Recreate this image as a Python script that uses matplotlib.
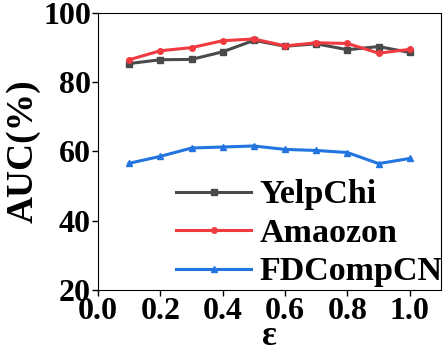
import numpy as np
import matplotlib.pyplot as plt

plt.rcParams['font.family'] = 'Liberation Serif'
plt.rcParams['font.weight'] = 'bold'

# -------- Data --------
eps = [0.1, 0.2, 0.3, 0.4, 0.5, 0.6, 0.7, 0.8, 0.9, 1.0]
yelpchi = [85.4, 86.5, 86.6, 88.8, 92.1, 90.4, 91.1, 89.4, 90.3, 88.6]
amazon = [86.5, 89.1, 90.0, 92.0, 92.5, 90.5, 91.4, 91.2, 88.4, 89.5]
fdcompcn = [56.6, 58.6, 61.0, 61.3, 61.6, 60.6, 60.3, 59.7, 56.5, 58.0]
labels = ["YelpChi", "Amaozon", "FDCompCN"]

fig = plt.figure(figsize=(4.46, 3.53), dpi=100)
ax = fig.add_axes([98/446, 1 - 290/353, (441-98)/446, (290-13)/353])

ax.plot(eps, yelpchi, color='#4a4a4a', marker='s', markersize=4, linewidth=2.2, label=labels[0])
ax.plot(eps, amazon, color='#ef3b3f', marker='o', markersize=4, linewidth=2.2, label=labels[1])
ax.plot(eps, fdcompcn, color='#2274e0', marker='^', markersize=4, linewidth=2.2, label=labels[2])

ax.set_xlim(0, 1.1)
ax.set_ylim(20, 100)
ax.set_xticks([0.0, 0.2, 0.4, 0.6, 0.8, 1.0])
ax.set_yticks([20, 40, 60, 80, 100])
ax.tick_params(labelsize=23, width=1, length=4, pad=1)
for lbl in ax.get_xticklabels() + ax.get_yticklabels():
    lbl.set_fontweight('bold')

ax.set_xlabel("ε", fontsize=25, fontweight='bold', labelpad=-4)
ax.set_ylabel("AUC(%)", fontsize=27, fontweight='bold', labelpad=2)

leg = ax.legend(loc='lower right', bbox_to_anchor=(1.045, -0.04), frameon=False,
                fontsize=24.5, handlelength=2.2, borderaxespad=0.0,
                labelspacing=0.22, handletextpad=0.25)
for t in leg.get_texts():
    t.set_fontweight('bold')

fig.savefig("out.png", dpi=100)
